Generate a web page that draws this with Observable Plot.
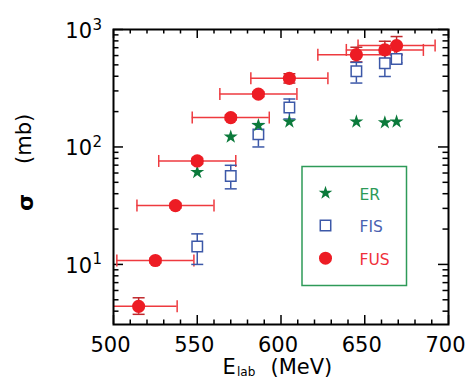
<!DOCTYPE html>
<html><head><meta charset="utf-8">
<script src="https://cdn.jsdelivr.net/npm/d3@7"></script>
<script src="https://cdn.jsdelivr.net/npm/@observablehq/plot@0.6"></script>
<style>body{margin:0;background:#fff}</style>
</head><body><div id="chart"></div>
<script>
// ---- data ----
const fusE      = [515, 525, 537, 550, 570, 586.5, 605, 645, 662, 669];
const fusEErr   = [23, 23, 23, 23, 23, 23, 23, 23, 23, 23];
const fusSigma  = [4.4, 10.8, 31.7, 76, 178, 282, 384, 611, 670, 730];
const fusSigLo  = [3.76, 10.3, 30.2, 72, 170, 268, 350, 530, 565, 612];
const fusSigHi  = [5.2, 11.3, 33.2, 80, 187, 296, 420, 706, 794, 871];

const fisE      = [550, 570, 586.5, 605, 645, 662, 669];
const fisSigma  = [14.2, 56.5, 128, 217, 441, 515, 561];
const fisSigLo  = [10.0, 44, 100, 173, 350, 398, 520];
const fisSigHi  = [18.2, 69.8, 158, 256, 525, 630, 605];

const erE       = [550, 570, 586.5, 605, 645, 662, 669];
const erSigma   = [61, 122, 153, 164, 164, 161.5, 164];

const xMajor = [500, 550, 600, 650, 700];
const xMinor = [510,520,530,540,560,570,580,590,610,620,630,640,660,670,680,690];
const yMajor = [10, 100, 1000];
const yMinor = [4,5,6,7,8,9,20,30,40,50,60,70,80,90,200,300,400,500,600,700,800,900];
const yTickExp = ["1", "2", "3"];
const legendLabels = ["ER", "FIS", "FUS"];
const legendSymbols = ["star", "square", "circle"];

// ---- style ----
const RED = "#ed1c24", REDBAR = "#ee3a3f", GREEN = "#0b7a3b", BLUE = "#3c58a8";
const LEG_GREEN = "#2e9a58", LEG_BLUE = "#4a62b0", LEG_RED = "#f0303a";
const FONT = "DejaVu Sans";
const W = 466, H = 378, mL = 113, mR = 18, mT = 29, mB = 54;
const iw = W - mL - mR, ih = H - mT - mB;

const fus = fusE.map((e, i) => ({e, lo: e - fusEErr[i], hi: e + fusEErr[i], s: fusSigma[i], slo: fusSigLo[i], shi: fusSigHi[i]}));
const fis = fisE.map((e, i) => ({e, s: fisSigma[i], slo: fisSigLo[i], shi: fisSigHi[i]}));
const er = erE.map((e, i) => ({e, s: erSigma[i]}));

const vbar = {draw(ctx, size) { const h = Math.sqrt(size / Math.PI); ctx.moveTo(0, -h); ctx.lineTo(0, h); }};
const hbar = {draw(ctx, size) { const h = Math.sqrt(size / Math.PI); ctx.moveTo(-h, 0); ctx.lineTo(h, 0); }};

const legendMarks = [];
const legSymDy = [163.5, 196, 228.7];
const legTxtDy = [170, 202.7, 235];
const legFill = [GREEN, "white", RED];
const legStroke = ["none", BLUE, "none"];
const legR = [4.3, 5.9, 6.5];
const legTxtCol = [LEG_GREEN, LEG_BLUE, LEG_RED];
legendLabels.forEach((lab, i) => {
  legendMarks.push(Plot.dot([lab], {frameAnchor: "top-left", dx: 212, dy: legSymDy[i], symbol: legendSymbols[i], r: legR[i], fill: legFill[i], stroke: legStroke[i], strokeWidth: 1.5}));
  legendMarks.push(Plot.text([lab], {frameAnchor: "top-left", dx: 246, dy: legTxtDy[i], text: d => d, textAnchor: "start", lineAnchor: "bottom", fontSize: 15.5, fontFamily: FONT, fill: legTxtCol[i]}));
});

const chart = Plot.plot({
  width: W, height: H,
  marginLeft: mL, marginRight: mR, marginTop: mT, marginBottom: mB,
  x: {type: "linear", domain: [500, 700], axis: null},
  y: {type: "log", domain: [3.08, 1000], axis: null},
  style: {background: "white", fontFamily: FONT},
  marks: [
    // ticks (inward)
    Plot.ruleX(xMajor, {x: d => d, insetTop: ih - 9, stroke: "black", strokeWidth: 1.5}),
    Plot.ruleX(xMajor, {x: d => d, insetBottom: ih - 9, stroke: "black", strokeWidth: 1.5}),
    Plot.ruleX(xMinor, {x: d => d, insetTop: ih - 4.5, stroke: "black", strokeWidth: 1.5}),
    Plot.ruleX(xMinor, {x: d => d, insetBottom: ih - 4.5, stroke: "black", strokeWidth: 1.5}),
    Plot.ruleY(yMajor, {y: d => d, insetRight: iw - 10, stroke: "black", strokeWidth: 1.5}),
    Plot.ruleY(yMajor, {y: d => d, insetLeft: iw - 10, stroke: "black", strokeWidth: 1.5}),
    Plot.ruleY(yMinor, {y: d => d, insetRight: iw - 5.5, stroke: "black", strokeWidth: 1.5}),
    Plot.ruleY(yMinor, {y: d => d, insetLeft: iw - 5.5, stroke: "black", strokeWidth: 1.5}),
    // tick labels
    Plot.text(xMajor, {x: d => d, frameAnchor: "bottom", dx: -3, dy: 27.7, lineAnchor: "bottom", text: d => String(d), fontSize: 21, fontFamily: FONT, fill: "black"}),
    Plot.text(yMajor, {y: d => d, frameAnchor: "left", dx: -21.5, dy: 8.5, lineAnchor: "bottom", textAnchor: "end", text: () => "10", fontSize: 21, fontFamily: FONT, fill: "black"}),
    Plot.text(yMajor, {y: d => d, frameAnchor: "left", dx: -21, dy: 0, lineAnchor: "bottom", textAnchor: "start", text: (d, i) => yTickExp[i], fontSize: 15, fontFamily: FONT, fill: "black"}),
    // axis labels
    Plot.text(["σ"], {frameAnchor: "left", dx: -88, dy: 34, rotate: -90, text: d => d, fontSize: 22, fontWeight: "bold", fontFamily: FONT, fill: "black"}),
    Plot.text(["(mb)"], {frameAnchor: "left", dx: -89, dy: -13, rotate: -90, text: d => d, fontSize: 21, fontFamily: FONT, fill: "black"}),
    Plot.text(["E"], {frameAnchor: "bottom-left", dx: 109, dy: 49, textAnchor: "start", lineAnchor: "bottom", text: d => d, fontSize: 21, fontFamily: FONT, fill: "black"}),
    Plot.text(["lab"], {frameAnchor: "bottom-left", dx: 123.5, dy: 51, textAnchor: "start", lineAnchor: "bottom", text: d => d, fontSize: 12, fontFamily: FONT, fill: "black"}),
    Plot.text(["(MeV)"], {frameAnchor: "bottom-left", dx: 157, dy: 49, textAnchor: "start", lineAnchor: "bottom", text: d => d, fontSize: 21, fontFamily: FONT, fill: "black"}),
    // error bars
    Plot.ruleY(fus, {y: "s", x1: "lo", x2: "hi", stroke: REDBAR, strokeWidth: 1.5, clip: true}),
    Plot.dot(fus, {x: "lo", y: "s", symbol: vbar, r: 6, stroke: REDBAR, fill: "none", strokeWidth: 1.5, clip: true}),
    Plot.dot(fus, {x: "hi", y: "s", symbol: vbar, r: 6, stroke: REDBAR, fill: "none", strokeWidth: 1.5, clip: true}),
    Plot.ruleX(fus, {x: "e", y1: "slo", y2: "shi", stroke: "#c0282c", strokeWidth: 1.5, clip: true}),
    Plot.dot(fus, {x: "e", y: "slo", symbol: hbar, r: 6, stroke: "#c0282c", fill: "none", strokeWidth: 1.5, clip: true}),
    Plot.dot(fus, {x: "e", y: "shi", symbol: hbar, r: 6, stroke: "#c0282c", fill: "none", strokeWidth: 1.5, clip: true}),
    Plot.ruleX(fis, {x: "e", y1: "slo", y2: "shi", stroke: BLUE, strokeWidth: 1.5, clip: true}),
    Plot.dot(fis, {x: "e", y: "slo", symbol: hbar, r: 6, stroke: BLUE, fill: "none", strokeWidth: 1.5, clip: true}),
    Plot.dot(fis, {x: "e", y: "shi", symbol: hbar, r: 6, stroke: BLUE, fill: "none", strokeWidth: 1.5, clip: true}),
    // markers
    Plot.dot(fis, {x: "e", y: "s", symbol: "square", r: 5.9, fill: "white", stroke: BLUE, strokeWidth: 1.5}),
    Plot.dot(er, {x: "e", y: "s", symbol: "star", r: 4.4, fill: GREEN, stroke: "none"}),
    Plot.dot(fus, {x: "e", y: "s", r: 6.6, fill: RED, stroke: "none"}),
    // legend
    Plot.frame({insetLeft: 188.5, insetRight: 42, insetTop: 137, insetBottom: 39, stroke: LEG_GREEN, strokeWidth: 1.5}),
    ...legendMarks,
    Plot.frame({stroke: "black", strokeWidth: 2})
  ]
});
document.getElementById("chart").appendChild(chart);
</script>
</body></html>
